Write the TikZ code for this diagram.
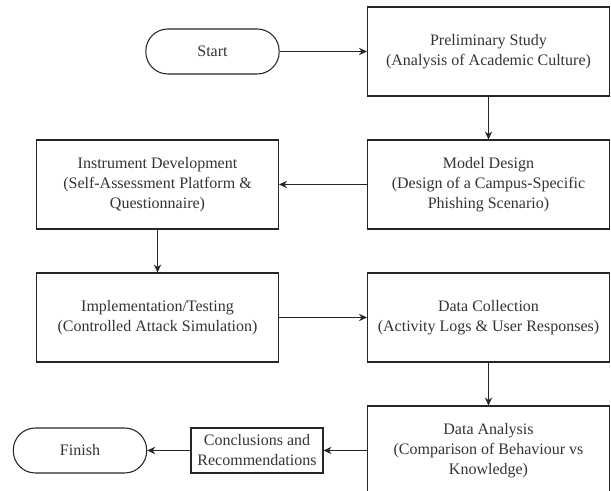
\documentclass[tikz,border=0pt]{standalone}
\usepackage{xcolor}
\usepackage{fontspec}
\setmainfont{Liberation Serif}
\usepackage{tikz}
\usetikzlibrary{arrows.meta}

\tikzset{
    procbox/.style={draw=black!85, line width=0.8pt, minimum width=181.5pt,
        minimum height=66.75pt, align=center, inner sep=0pt, text=black!80,
        font=\fontsize{12}{15}\selectfont},
    termbox/.style={draw=black!85, line width=0.8pt, rounded corners=16.5pt,
        minimum width=100pt, minimum height=33.75pt, inner sep=0pt, text=black!80,
        font=\fontsize{12}{15}\selectfont},
    notebox/.style={draw=black!85, line width=0.8pt, minimum width=99pt,
        minimum height=33.75pt, align=center, inner sep=0pt, text=black!80,
        font=\fontsize{12}{15}\selectfont},
    flowarrow/.style={draw=black!85, line width=0.8pt, -{Stealth[length=6pt, width=5.5pt]}}
}

\begin{document}
\begin{tikzpicture}[x=0.75pt, y=-0.75pt]
                \clip (0, 0) rectangle (611, 491);

                \node[termbox] (start) at (212.5, 51.5) {Start};
                \node[procbox] (prelim) at (488.5, 51.5) {Preliminary Study\\
                    (Analysis of Academic Culture)};
                \node[procbox] (model) at (488.5, 184.5) {Model Design\\
                    (Design of a Campus-Specific\\ Phishing Scenario)};
                \node[procbox] (instrument) at (157.5, 184.5) {Instrument Development\\
                    (Self-Assessment Platform \&\\ Questionnaire)};
                \node[procbox] (implement) at (157.5, 317.5) {Implementation/Testing\\
                    (Controlled Attack Simulation)};
                \node[procbox] (collect) at (488.5, 317.5) {Data Collection\\
                    (Activity Logs \& User Responses)};
                \node[procbox] (analysis) at (488.5, 450.5) {Data Analysis\\
                    (Comparison of Behaviour vs\\ Knowledge)};
                \node[notebox] (conclude) at (257, 450.5) {Conclusions and\\
                    Recommendations};
                \node[termbox] (finish) at (80, 450.5) {Finish};

                \draw[flowarrow] (start) -- (prelim);
                \draw[flowarrow] (prelim) -- (model);
                \draw[flowarrow] (model) -- (instrument);
                \draw[flowarrow] (instrument) -- (implement);
                \draw[flowarrow] (implement) -- (collect);
                \draw[flowarrow] (collect) -- (analysis);
                \draw[flowarrow] (analysis) -- (conclude);
                \draw[flowarrow] (conclude) -- (finish);
            \end{tikzpicture}
\end{document}
